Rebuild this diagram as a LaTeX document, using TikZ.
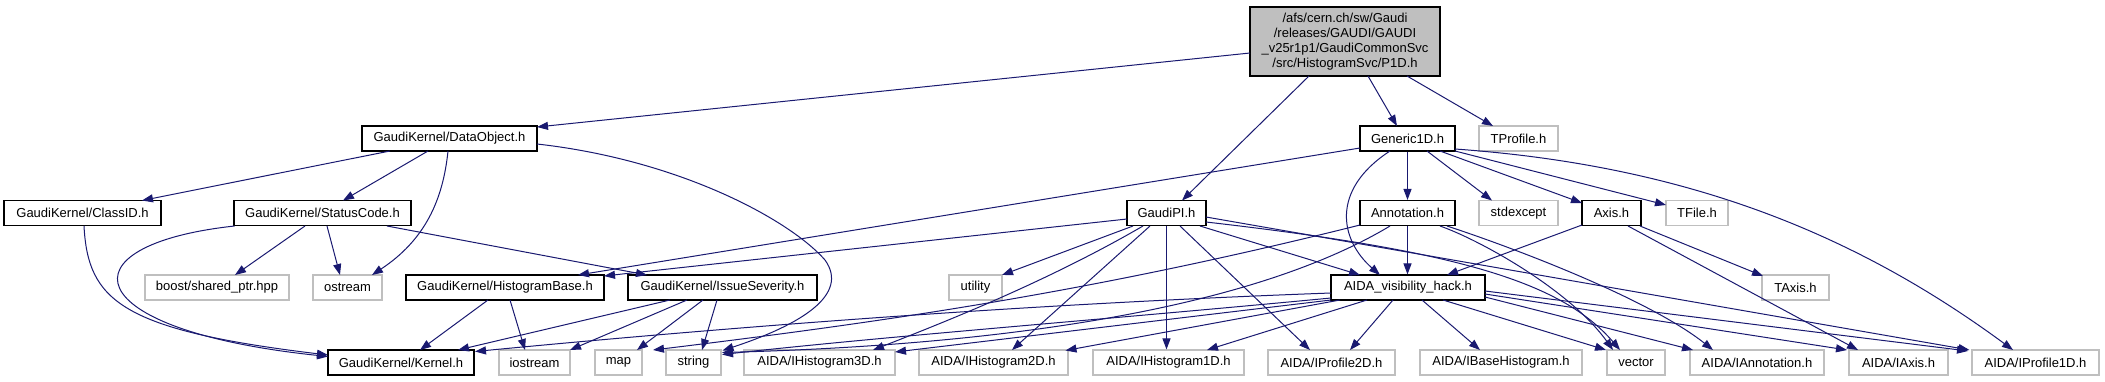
\documentclass[tikz,border=0pt]{standalone}
\usepackage{fontspec}
\setmainfont{Liberation Sans}
\usetikzlibrary{arrows.meta,calc}
\definecolor{edgec}{RGB}{25,25,112}
\definecolor{gbord}{RGB}{191,191,191}
\definecolor{rootfill}{RGB}{191,191,191}
\begin{document}
\begin{tikzpicture}[x=1pt,y=-1pt,
  nb/.style={draw=black, line width=1.1pt, fill=white, rectangle, inner sep=0pt, minimum height=25pt, font=\fontsize{13}{15}\selectfont},
  ng/.style={nb, draw=gbord},
  e/.style={draw=edgec, line width=1pt, -{Triangle[length=11pt,width=8pt]}}
]
\useasboundingbox (0,0) rectangle (2105,381);
% root
\node[nb, fill=rootfill, minimum width=190pt, minimum height=69pt, align=center] (root) at (1345,41.5)
  {/afs/cern.ch/sw/Gaudi\\/releases/GAUDI/GAUDI\\\_v25r1p1/GaudiCommonSvc\\/src/HistogramSvc/P1D.h};
% row 2
\node[nb, minimum width=175pt] (dataobj) at (449.5,138.5) {GaudiKernel/DataObject.h};
\node[nb, minimum width=95pt] (gen) at (1407.5,138.5) {Generic1D.h};
\node[ng, minimum width=79pt] (tprof) at (1518.5,138.5) {TProfile.h};
% row 3
\node[nb, minimum width=157pt] (classid) at (82.5,213) {GaudiKernel/ClassID.h};
\node[nb, minimum width=177pt] (status) at (322.5,213) {GaudiKernel/StatusCode.h};
\node[nb, minimum width=79pt] (gpi) at (1166.5,213) {GaudiPI.h};
\node[nb, minimum width=95pt] (annot) at (1407.5,213) {Annotation.h};
\node[ng, minimum width=79pt] (stdex) at (1518.5,213) {stdexcept};
\node[nb, minimum width=59pt] (axis) at (1611.5,213) {Axis.h};
\node[ng, minimum width=62pt] (tfile) at (1697,213) {TFile.h};
% row 4
\node[ng, minimum width=144pt] (boost) at (217,287.5) {boost/shared\_ptr.hpp};
\node[ng, minimum width=69pt] (ostream) at (347.5,287.5) {ostream};
\node[nb, minimum width=198pt] (hbase) at (505,287.5) {GaudiKernel/HistogramBase.h};
\node[nb, minimum width=189pt] (issue) at (722.5,287.5) {GaudiKernel/IssueSeverity.h};
\node[ng, minimum width=53pt] (utility) at (975.5,287.5) {utility};
\node[nb, minimum width=154pt] (aida) at (1408,287.5) {AIDA\_visibility\_hack.h};
\node[ng, minimum width=67pt] (taxis) at (1795.5,287.5) {TAxis.h};
% row 5
\node[nb, minimum width=146pt] (kernel) at (401,362.5) {GaudiKernel/Kernel.h};
\node[ng, minimum width=71pt] (iostream) at (534.5,362.5) {iostream};
\node[ng, minimum width=47pt] (map) at (618.5,362.5) {map};
\node[ng, minimum width=55pt] (string) at (693.5,362.5) {string};
\node[ng, minimum width=151pt] (ih3) at (819.5,362.5) {AIDA/IHistogram3D.h};
\node[ng, minimum width=149pt] (ih2) at (993.5,362.5) {AIDA/IHistogram2D.h};
\node[ng, minimum width=151pt] (ih1) at (1168.5,362.5) {AIDA/IHistogram1D.h};
\node[ng, minimum width=127pt] (ip2) at (1331.5,362.5) {AIDA/IProfile2D.h};
\node[ng, minimum width=162pt] (ibase) at (1501,362.5) {AIDA/IBaseHistogram.h};
\node[ng, minimum width=58pt] (vector) at (1636,362.5) {vector};
\node[ng, minimum width=134pt] (iannot) at (1757,362.5) {AIDA/IAnnotation.h};
\node[ng, minimum width=99pt] (iaxis) at (1898.5,362.5) {AIDA/IAxis.h};
\node[ng, minimum width=127pt] (ip1) at (2035.5,362.5) {AIDA/IProfile1D.h};

% root edges
\draw[e] ($(root)+(-95,11.5)$) -- ($(dataobj)+(87.5,-11.5)$);
\draw[e] ($(root)+(-36,34.5)$) -- ($(gpi)+(15.5,-12.5)$);
\draw[e] ($(root)+(23,34.5)$) -- ($(gen)+(-10.5,-12.5)$);
\draw[e] ($(root)+(62,34.5)$) -- ($(tprof)+(-25.5,-12.5)$);
% DataObject
\draw[e] ($(dataobj)+(-59.5,12.5)$) -- ($(classid)+(59.5,-12.5)$);
\draw[e] ($(dataobj)+(-21.5,12.5)$) -- ($(status)+(20.5,-12.5)$);
\draw[e] ($(dataobj)+(-1.5,12.5)$) .. controls (443,200) and (425,240) .. ($(ostream)+(24.5,-12.5)$);
\draw[e] ($(dataobj)+(87.5,5.5)$) .. controls (680,160) and (790,220) .. (825,260) .. controls (850,295) and (800,325) .. ($(string)+(29,-12)$);
% ClassID, StatusCode
\draw[e] ($(classid)+(1.5,13)$) .. controls (88,300) and (120,330) .. ($(kernel)+(-73,-7.5)$);
\draw[e] ($(status)+(-88,13)$) .. controls (60,245) and (75,330) .. ($(kernel)+(-73,-6)$);
\draw[e] ($(status)+(-17.5,13)$) -- ($(boost)+(18,-12.5)$);
\draw[e] ($(status)+(4.5,13)$) -- ($(ostream)+(-7.5,-12.5)$);
\draw[e] ($(status)+(64.5,13)$) -- ($(issue)+(-75.5,-12.5)$);
% Generic1D
\draw[e] ($(gen)+(-47.5,9.5)$) -- ($(hbase)+(73,-12.5)$);
\draw[e] ($(gen)+(-17.5,12.5)$) .. controls (1330,190) and (1340,240) .. ($(aida)+(-28,-12.5)$);
\draw[e] (gen.south) -- (annot.north);
\draw[e] ($(gen)+(19.5,12.5)$) -- ($(stdex)+(-26.5,-12.5)$);
\draw[e] ($(gen)+(32.5,12.5)$) -- ($(axis)+(-29.5,-10)$);
\draw[e] ($(gen)+(47.5,12.5)$) -- ($(tfile)+(-31,-8)$);
\draw[e] ($(gen)+(47.5,10.5)$) .. controls (1680,165) and (1850,230) .. ($(ip1)+(-22.5,-12.5)$);
% GaudiPI
\draw[e] ($(gpi)+(-39.5,6)$) -- ($(hbase)+(99,-11.5)$);
\draw[e] ($(gpi)+(-33.5,13)$) -- ($(utility)+(26.5,-12.5)$);
\draw[e] ($(gpi)+(-23.5,13)$) .. controls (1050,280) and (950,320) .. ($(ih3)+(53.5,-12.5)$);
\draw[e] ($(gpi)+(-16.5,13)$) -- ($(ih2)+(18.5,-12.5)$);
\draw[e] (gpi.south) -- (gpi.south |- ih1.north);
\draw[e] ($(gpi)+(13.5,13)$) -- ($(ip2)+(-21.5,-12.5)$);
\draw[e] ($(gpi)+(33.5,13)$) -- ($(aida)+(-48,-12.5)$);
\draw[e] ($(gpi)+(39.5,9)$) .. controls (1450,250) and (1560,280) .. ($(vector)+(-16,-12.5)$);
\draw[e] ($(gpi)+(39.5,4)$) -- ($(ip1)+(-66,-12.5)$);
% Annotation
\draw[e] (annot.south) -- (annot.south |- aida.north);
\draw[e] ($(annot)+(-47.5,12)$) .. controls (1100,290) and (900,320) .. ($(map)+(34.5,-12.5)$);
\draw[e] ($(annot)+(-17.5,13)$) .. controls (1250,310) and (1000,345) .. ($(string)+(28.5,-10)$);
\draw[e] ($(annot)+(32.5,13)$) .. controls (1480,240) and (1570,290) .. ($(vector)+(-23,-12.5)$);
\draw[e] ($(annot)+(39.5,13)$) .. controls (1520,250) and (1650,300) .. ($(iannot)+(-44,-12.5)$);
% Axis
\draw[e] ($(axis)+(-29.5,12)$) -- ($(aida)+(39,-12.5)$);
\draw[e] ($(axis)+(28.5,13)$) -- ($(taxis)+(-32.5,-11.5)$);
\draw[e] ($(axis)+(16.5,13)$) -- ($(iaxis)+(-40.5,-12.5)$);
% AIDA_visibility_hack
\draw[e] ($(aida)+(-77,5.5)$) .. controls (1000,305) and (700,330) .. ($(kernel)+(74,-11)$);
\draw[e] ($(aida)+(-77,10.5)$) .. controls (1100,320) and (900,335) .. ($(string)+(28.5,-8)$);
\draw[e] ($(aida)+(-77,12.5)$) -- ($(ih3)+(75.5,-10.5)$);
\draw[e] ($(aida)+(-68,12.5)$) -- ($(ih2)+(72,-12)$);
\draw[e] ($(aida)+(-41,12.5)$) -- ($(ih1)+(38.5,-12.5)$);
\draw[e] ($(aida)+(-15,12.5)$) -- ($(ip2)+(18.5,-12.5)$);
\draw[e] ($(aida)+(14,12.5)$) -- ($(ibase)+(-21,-12.5)$);
\draw[e] ($(aida)+(35,12.5)$) -- ($(vector)+(-30,-12.5)$);
\draw[e] ($(aida)+(77,9.5)$) -- ($(iannot)+(-64,-12.5)$);
\draw[e] ($(aida)+(77,6.5)$) -- ($(iaxis)+(-51.5,-12.5)$);
\draw[e] ($(aida)+(77,3.5)$) -- ($(ip1)+(-67.5,-11.5)$);
% HistogramBase, IssueSeverity
\draw[e] ($(hbase)+(-17,12.5)$) -- ($(kernel)+(19,-12.5)$);
\draw[e] ($(hbase)+(5,12.5)$) -- ($(iostream)+(-9.5,-12.5)$);
\draw[e] ($(issue)+(-52.5,12.5)$) -- ($(kernel)+(57,-12.5)$);
\draw[e] ($(issue)+(-35.5,12.5)$) -- ($(iostream)+(35.5,-12.5)$);
\draw[e] ($(issue)+(-19.5,12.5)$) -- ($(map)+(18.5,-12.5)$);
\draw[e] ($(issue)+(-5.5,12.5)$) -- ($(string)+(8.5,-12.5)$);
\end{tikzpicture}
\end{document}
